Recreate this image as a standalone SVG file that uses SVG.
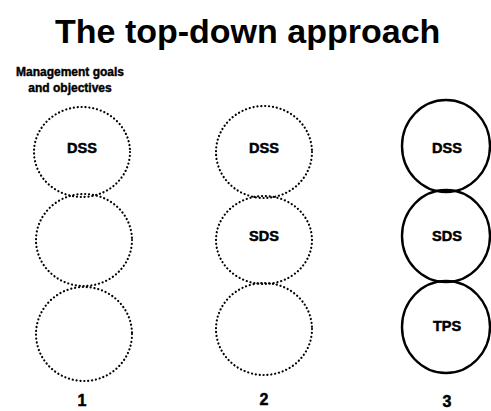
<svg xmlns="http://www.w3.org/2000/svg" width="491" height="411" viewBox="0 0 491 411">
<style>
.dot{fill:none;stroke:#000;stroke-width:2.2;stroke-dasharray:0.1 3.8;stroke-linecap:round}
.sol{fill:none;stroke:#000;stroke-width:2.4}
.lbl{font-family:"Liberation Sans",Arial,sans-serif;font-weight:bold;font-size:14.5px;text-anchor:middle;fill:#000;stroke:#000;stroke-width:0.5}
.num{font-family:"Liberation Sans",Arial,sans-serif;font-weight:bold;font-size:16px;text-anchor:middle;fill:#000;stroke:#000;stroke-width:0.5}
.title{font-family:"Liberation Sans",Arial,sans-serif;font-weight:bold;font-size:34px;fill:#000}
.note{font-family:"Liberation Sans",Arial,sans-serif;font-weight:bold;font-size:12px;text-anchor:middle;fill:#000;stroke:#000;stroke-width:0.4}
</style>
<rect width="491" height="411" fill="#fff"/>
<text class="title" x="55" y="43">The top-down approach</text>
<text class="note" x="70" y="76">Management goals</text>
<text class="note" x="70" y="92">and objectives</text>
<g id="col1">
<g id="c1-dss"><ellipse class="dot" cx="82" cy="152" rx="48" ry="45"/><text class="lbl" x="82" y="153">DSS</text></g>
<g id="c1-mid"><ellipse class="dot" cx="84" cy="240" rx="48" ry="46"/></g>
<g id="c1-bot"><ellipse class="dot" cx="84" cy="334" rx="48" ry="47"/></g>
<text class="num" x="82" y="406">1</text>
</g>
<g id="col2">
<g id="c2-dss"><ellipse class="dot" cx="264" cy="152" rx="48" ry="46"/><text class="lbl" x="264" y="153">DSS</text></g>
<g id="c2-sds"><ellipse class="dot" cx="264" cy="240" rx="48" ry="44"/><text class="lbl" x="264" y="241">SDS</text></g>
<g id="c2-bot"><ellipse class="dot" cx="264" cy="329" rx="48" ry="46"/></g>
<text class="num" x="264" y="405">2</text>
</g>
<g id="col3">
<g id="c3-dss"><ellipse class="sol" cx="446" cy="146" rx="44" ry="46"/><text class="lbl" x="447" y="153">DSS</text></g>
<g id="c3-sds"><ellipse class="sol" cx="446" cy="236" rx="44" ry="46"/><text class="lbl" x="447" y="241">SDS</text></g>
<g id="c3-tps"><ellipse class="sol" cx="446" cy="327" rx="44" ry="46"/><text class="lbl" x="447" y="331">TPS</text></g>
<text class="num" x="447" y="407">3</text>
</g>
<g id="connectors"/>
</svg>
